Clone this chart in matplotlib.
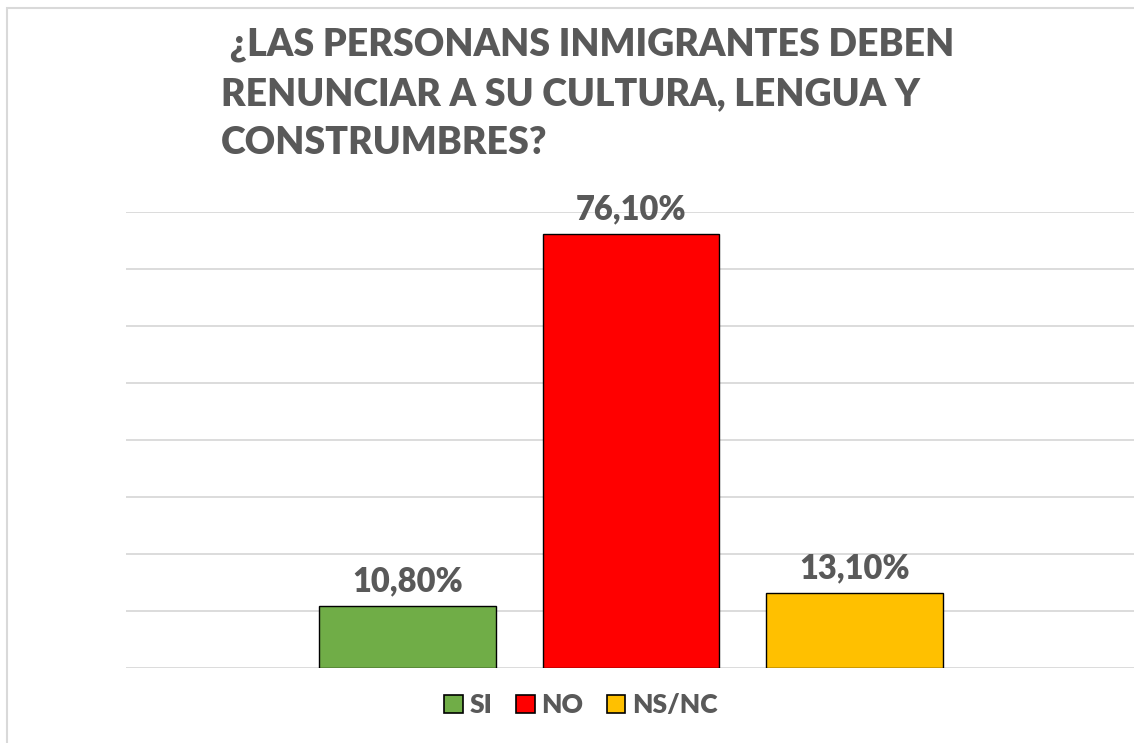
import matplotlib
matplotlib.use("Agg")
import matplotlib.pyplot as plt
from matplotlib.patches import Patch

# datos de la encuesta
categorias = ["SI", "NO", "NS/NC"]
valores = [10.8, 76.1, 13.1]
etiquetas = ["10,80%", "76,10%", "13,10%"]
colores = ["#70AD47", "#FF0000", "#FFC000"]

gris = "#595959"
plt.rcParams["font.family"] = ["Lato", "DejaVu Sans"]

fig = plt.figure(figsize=(11.34, 7.43), dpi=100)
# borde del area del grafico
fig.patches.append(plt.Rectangle((7 / 1134, -0.1), 1.2, 1 - 8 / 743 + 0.1,
                                 transform=fig.transFigure, fill=False,
                                 edgecolor="#D9D9D9", linewidth=1.5))

ax = fig.add_axes([126 / 1134, 1 - 668 / 743, 1010 / 1134, (668 - 212) / 743])

x = list(range(len(categorias)))
ax.bar(x, valores, width=0.79, color=colores, edgecolor="black",
       linewidth=1, zorder=3)

for xi, v, t in zip(x, valores, etiquetas):
    ax.text(xi, v + 1.6, t, ha="center", va="bottom", fontsize=23.5,
            fontweight="heavy", color=gris)

ax.set_xlim(-1.257, 3.257)
ax.set_ylim(0, 80)
ax.set_yticks(range(0, 81, 10))
ax.yaxis.grid(True, color="#D9D9D9", linewidth=1.3, zorder=0)
ax.set_xticks([])
ax.tick_params(left=False, labelleft=False)
for s in ax.spines.values():
    s.set_visible(False)

# titulo alineado a la izquierda
fig.text(221 / 1134, 1 - 27 / 743,
         " ¿LAS PERSONANS INMIGRANTES DEBEN\nRENUNCIAR A SU CULTURA, LENGUA Y\nCONSTRUMBRES?",
         ha="left", va="top", fontsize=27, fontweight="heavy", color=gris,
         linespacing=1.55)

handles = [Patch(facecolor=c, edgecolor="black", linewidth=1.2) for c in colores]
leg = fig.legend(handles, categorias, loc="center", bbox_to_anchor=(581 / 1134, 1 - 705 / 743),
                 ncol=3, frameon=False, fontsize=19, handlelength=0.7, handleheight=0.7,
                 handletextpad=0.25, columnspacing=0.9)
for t in leg.get_texts():
    t.set_color(gris)
    t.set_fontweight("heavy")

fig.savefig("out.png", dpi=100)
